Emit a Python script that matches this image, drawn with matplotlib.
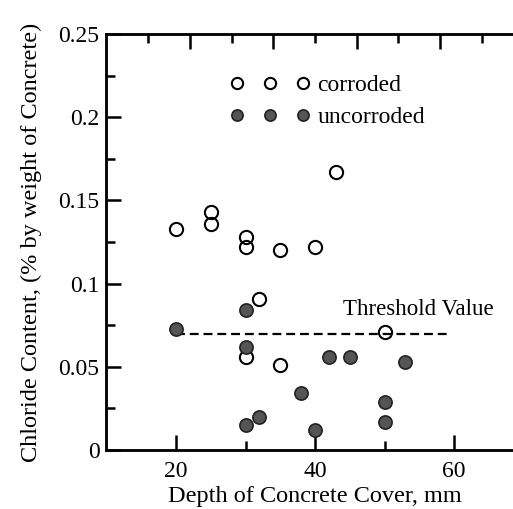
import matplotlib
matplotlib.use("Agg")
import matplotlib.pyplot as plt

# corroded (open circles)
corroded_x = [20, 25, 25, 30, 30, 35, 40, 43, 32, 30, 35, 50]
corroded_y = [0.133, 0.143, 0.136, 0.128, 0.122, 0.120, 0.122, 0.167, 0.091, 0.056, 0.051, 0.071]

# uncorroded (filled circles)
uncorroded_x = [20, 30, 30, 30, 32, 38, 40, 42, 45, 50, 50, 53]
uncorroded_y = [0.073, 0.084, 0.062, 0.015, 0.020, 0.034, 0.012, 0.056, 0.056, 0.029, 0.017, 0.053]

threshold_x = [20, 59]
threshold_value = 0.07

y_ticks = [0, 0.05, 0.1, 0.15, 0.2, 0.25]
y_tick_labels = ["0", "0.05", "0.1", "0.15", "0.2", "0.25"]
x_ticks = [20, 40, 60]

plt.rcParams["font.family"] = "serif"
plt.rcParams["font.serif"] = ["Liberation Serif"]

fig = plt.figure(figsize=(5.13, 5.09), dpi=100)
ax = fig.add_axes([0.2076, 0.1159, 0.813, 0.8173])

ax.plot(threshold_x, [threshold_value] * len(threshold_x), linestyle="--", color="black",
        linewidth=1.6, dashes=(4, 2.2), zorder=1)

ax.plot(corroded_x, corroded_y, linestyle="none", marker="o", markersize=9.5,
        markerfacecolor="none", markeredgecolor="black", markeredgewidth=1.5,
        label="corroded", zorder=2)
ax.plot(uncorroded_x, uncorroded_y, linestyle="none", marker="o", markersize=9.5,
        markerfacecolor="#555555", markeredgecolor="#222222", markeredgewidth=1.2,
        label="uncorroded", zorder=3)

ax.text(44, 0.078, "Threshold Value", fontsize=16.5, ha="left", va="bottom")

ax.set_xlim(10, 70)
ax.set_ylim(0, 0.25)
ax.set_xticks(x_ticks)
ax.set_xticks([30, 50], minor=True)
ax.set_yticks(y_ticks)
ax.set_yticklabels(y_tick_labels)
ax.set_yticks([0.025, 0.075, 0.125, 0.175, 0.225], minor=True)

ax.tick_params(which="major", direction="in", length=11, width=1.8, labelsize=17, pad=5)
ax.tick_params(axis="x", which="major", pad=8)
ax.tick_params(which="minor", direction="in", length=6.5, width=1.8)
for sp in ax.spines.values():
    sp.set_linewidth(2)

# top and right axes have their own tick marks
top = ax.twiny()
top.set_xlim(ax.get_xlim())
top.set_xticks([22, 34, 46, 58])
top.set_xticks([16, 28, 40, 52, 64], minor=True)
top.tick_params(which="major", direction="in", length=11, width=1.8, labeltop=False)
top.tick_params(which="minor", direction="in", length=6.5, width=1.8)

right = ax.twinx()
right.set_ylim(ax.get_ylim())
right.set_yticks([0.052, 0.104, 0.156, 0.208])
right.tick_params(direction="in", length=8, width=1.8, labelright=False)

ax.set_xlabel("Depth of Concrete Cover, mm", fontsize=17.5, labelpad=3)
ax.set_ylabel("Chloride Content, (% by weight of Concrete)", fontsize=17.5, labelpad=12)

ax.legend(loc="upper left", bbox_to_anchor=(0.296, 0.902), frameon=False, numpoints=3,
          handlelength=3.4, handletextpad=0.3, borderpad=0, borderaxespad=0,
          labelspacing=0.45, markerscale=0.85, fontsize=17)

fig.savefig("out.png", dpi=100)
